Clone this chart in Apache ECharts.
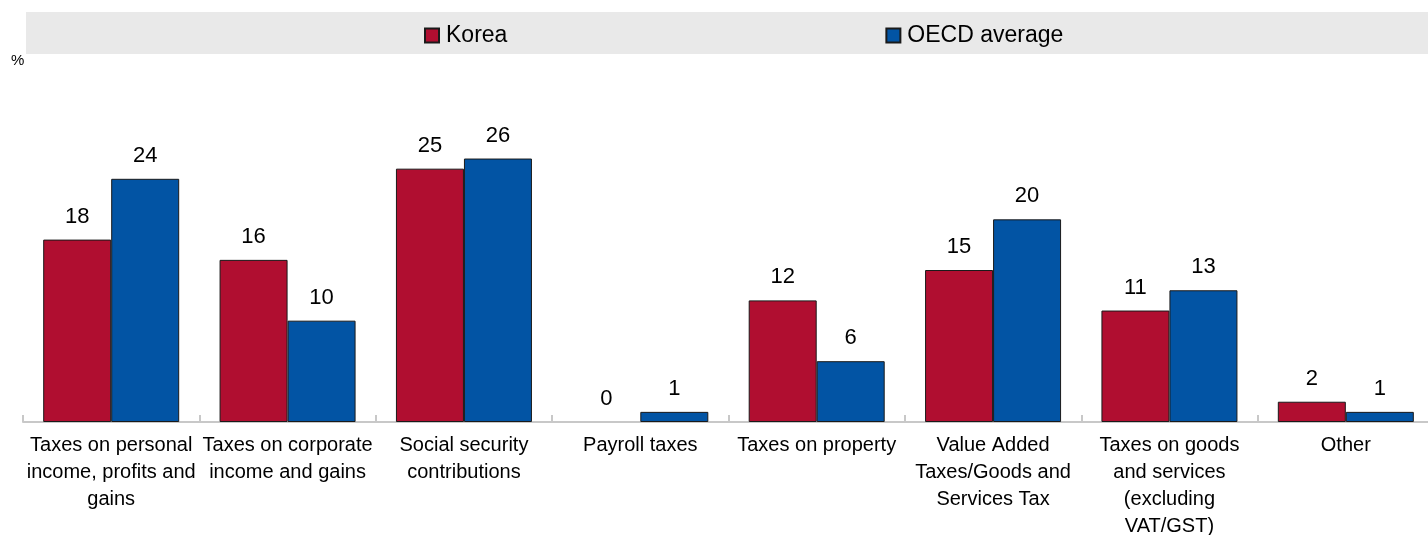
<!DOCTYPE html>
<html>
<head>
<meta charset="utf-8">
<script src="https://cdn.jsdelivr.net/npm/echarts@6/dist/echarts.min.js"></script>
<style>
html,body{margin:0;padding:0;background:#fff;overflow:hidden;}
#chart{width:1428px;height:535px;}
</style>
</head>
<body>
<div id="chart"></div>
<script>
const categories = [
  "Taxes on personal\nincome, profits and\ngains",
  "Taxes on corporate\nincome and gains",
  "Social security\ncontributions",
  "Payroll taxes",
  "Taxes on property",
  "Value Added\nTaxes/Goods and\nServices Tax",
  "Taxes on goods\nand services\n(excluding\nVAT/GST)",
  "Other"
];
const korea = [18, 16, 25, 0, 12, 15, 11, 2];
const oecd = [24, 10, 26, 1, 6, 20, 13, 1];
const seriesNames = ["Korea", "OECD average"];

const FONT = "'Liberation Sans', Arial, sans-serif";
const chart = echarts.init(document.getElementById('chart'));
const labelCfg = {
  show: true, position: 'top', distance: 12,
  color: '#000', fontFamily: FONT, fontSize: 22
};
// zero-height bars get no visible outline
const toData = arr => arr.map(v => v === 0 ? { value: v, itemStyle: { borderWidth: 0 } } : v);
chart.setOption({
  animation: false,
  graphic: [
    { type: 'rect', shape: { x: 26, y: 12, width: 1402, height: 42 }, style: { fill: '#e9e9e9' }, z: -1 },
    { type: 'text', left: 11, top: 53, style: { text: '%', fontSize: 15, fontFamily: FONT, fill: '#000' } }
  ],
  legend: {
    data: seriesNames,
    left: 419, top: 19,
    itemWidth: 14, itemHeight: 14, itemGap: 378,
    icon: 'rect',
    textStyle: { fontFamily: FONT, fontSize: 23, color: '#000', padding: [0, 0, 0, 2] }
  },
  grid: { left: 23, top: 118, width: 1411, height: 304, outerBoundsMode: 'none', containLabel: false },
  xAxis: {
    type: 'category',
    data: categories,
    axisLine: { lineStyle: { color: '#c8c8c8', width: 2 } },
    axisTick: { show: true, inside: true, length: 7, lineStyle: { color: '#c8c8c8', width: 2 } },
    axisLabel: { interval: 0, margin: 10, fontFamily: FONT, fontSize: 20, color: '#000', lineHeight: 27 }
  },
  yAxis: {
    type: 'value', min: 0, max: 30,
    show: false, splitLine: { show: false }
  },
  series: [
    { name: seriesNames[0], type: 'bar', data: toData(korea), barWidth: 68, barGap: '0%',
      itemStyle: { color: '#b00e30', borderColor: '#1a1a1a', borderWidth: 1 }, label: labelCfg },
    { name: seriesNames[1], type: 'bar', data: toData(oecd), barWidth: 68,
      itemStyle: { color: '#0254a4', borderColor: '#1a1a1a', borderWidth: 1 }, label: labelCfg }
  ]
});
</script>
</body>
</html>
